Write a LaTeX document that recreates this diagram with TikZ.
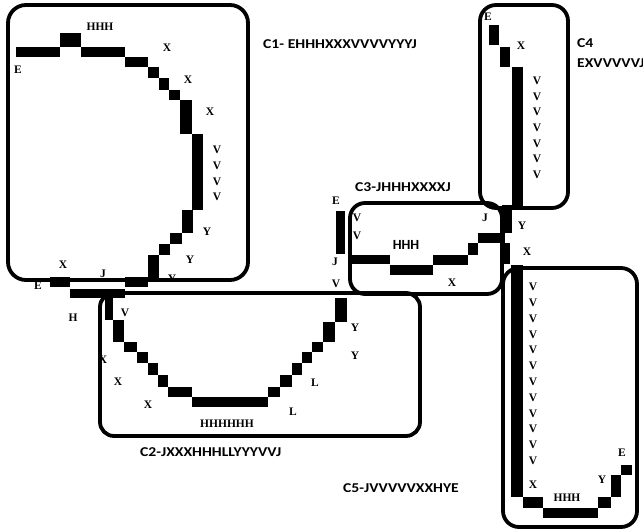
\documentclass[tikz,border=0pt]{standalone}
\usepackage{fontspec}
\setmainfont{Liberation Serif}
\newfontfamily\ttlfam{Carlito}
\newcommand{\wide}[1]{\scalebox{1.16}[1]{#1}}
\begin{document}
\begin{tikzpicture}[x=1pt,y=-1pt,
  lbl/.style={font=\fontsize{11.5}{12}\selectfont\bfseries, inner sep=0pt},
  slbl/.style={font=\ttlfam\fontsize{14}{15}\selectfont\bfseries, inner sep=0pt},
  ttl/.style={font=\ttlfam\fontsize{13.5}{15}\selectfont\bfseries, anchor=west, inner sep=0pt},
  frame/.style={draw=black, line width=3.8pt, rounded corners=16pt},
  blk/.style={fill=black}]
\path[use as bounding box] (0,0) rectangle (643,531);
\clip (0,0) rectangle (643,531);

% ---------- chain C1 labels ----------
\node[lbl] (c1h) at (100,27) {HHH};
\node[lbl] (c1e) at (18,70) {E};
\node[lbl] (c1x1) at (167,48) {X};
\node[lbl] (c1x2) at (188,80) {X};
\node[lbl] (c1x3) at (210,112) {X};
\foreach \y [count=\i] in {150,166,182,197}
  \node[lbl] (c1v\i) at (217,\y) {V};
\node[lbl] (c1y1) at (207,232) {Y};
\node[lbl] (c1y2) at (190,260) {Y};
\node[lbl] (c1x4) at (63,265) {X};
\node[lbl] (c1j) at (103,274) {J};
\node[lbl] (c1y3) at (172,279) {Y};
\node[lbl] (c1e2) at (38,286) {E};

% ---------- chain C2 labels ----------
\node[lbl] (c2h) at (73,318) {H};
\node[lbl] (c2v1) at (125,313) {V};
\node[lbl] (c2x1) at (103,360) {X};
\node[lbl] (c2x2) at (118,382) {X};
\node[lbl] (c2x3) at (148,405) {X};
\node[lbl] (c2h6) at (227,424) {HHHHHH};
\node[lbl] (c2l1) at (293,412) {L};
\node[lbl] (c2l2) at (315,383) {L};
\node[lbl] (c2y1) at (355,328) {Y};
\node[lbl] (c2y2) at (355,356) {Y};
\node[lbl] (c2v2) at (336,284) {V};

% ---------- chain C3 labels ----------
\node[lbl] (c3e) at (336,201) {E};
\node[lbl] (c3v1) at (357,218) {V};
\node[lbl] (c3v2) at (357,236) {V};
\node[lbl] (c3j1) at (335,262) {J};
\node[slbl] (c3h) at (406,245) {HHH};
\node[lbl] (c3x) at (452,283) {X};
\node[lbl] (c3j2) at (485,218) {J};

% ---------- chain C4 labels ----------
\node[lbl] (c4e) at (488,17) {E};
\node[lbl] (c4x) at (521,46) {X};
\foreach \i in {0,...,6}
  \node[lbl] (c4v\i) at (537,{81+15.6*\i}) {V};
\node[lbl] (c4y) at (522,226) {Y};
\node[lbl] (c4x2) at (527,252) {X};

% ---------- chain C5 labels ----------
\foreach \i in {0,...,11}
  \node[lbl] (c5v\i) at (533,{287+15.8*\i}) {V};
\node[lbl] (c5x) at (533,485) {X};
\node[lbl] (c5h) at (567,498) {HHH};
\node[lbl] (c5y) at (602,480) {Y};
\node[lbl] (c5e) at (622,453) {E};

% ---------- titles ----------
\node[ttl] (t1) at (263,44) {\wide{C1- EHHHXXXVVVVYYYJ}};
\node[ttl] (t2) at (140,452) {\wide{C2-JXXXHHHLLYYYVVJ}};
\node[ttl] (t3) at (355,187) {\wide{C3-JHHHXXXXJ}};
\node[ttl] (t4a) at (577,43) {\wide{C4}};
\node[ttl] (t4b) at (577,63) {\wide{EXVVVVVJ}};
\node[ttl] (t5) at (343,488) {\wide{C5-JVVVVVXXHYE}};

% ---------- frames ----------
\draw[frame, rounded corners=18pt] (8,5) rectangle (248,280);
\draw[frame, rounded corners=14pt] (100,293) rectangle (420,436);
\draw[frame, rounded corners=15pt] (350,203) rectangle (502,294);
\draw[frame, rounded corners=16pt] (480,5) rectangle (568,208);
\draw[frame, rounded corners=16pt] (503,268) rectangle (637,527);

% ---------- residue blocks ----------
% C1
\foreach \a/\b/\c/\d in {16/47/60/57, 60/33/81/47, 81/47/125/57, 125/57/148/67,
    148/67/159/78, 159/78/169/90, 169/90/180/100, 180/100/192/134,
    192/134/203/210, 182/210/193/233, 170/233/182/244, 159/244/170/255,
    148/255/159/278, 125/277/148/287, 50/277/70/287, 70/289/125/298}
  \fill[blk] (\a,\b) rectangle (\c,\d);
% C2
\foreach \a/\b/\c/\d in {105/298/113/320, 113/320/124/342, 124/342/137/352,
    137/352/148/363, 148/363/158/375, 158/375/168/387, 168/387/192/397,
    192/397/268/407, 268/387/280/397, 280/375/292/387, 292/363/302/375,
    302/352/312/363, 312/342/323/352, 323/322/335/342, 335/298/347/322}
  \fill[blk] (\a,\b) rectangle (\c,\d);
% C3
\foreach \a/\b/\c/\d in {336/211/345/254, 350/255/390/264, 390/265/433/275,
    433/255/468/265, 468/243/478/255, 478/233/505/243}
  \fill[blk] (\a,\b) rectangle (\c,\d);
% C4 and the stem joining it to C5
\foreach \a/\b/\c/\d in {489/25/499/45, 500/47/510/67, 512/67/523/208,
    502/205/512/233, 503/243/510/264}
  \fill[blk] (\a,\b) rectangle (\c,\d);
% C5
\foreach \a/\b/\c/\d in {511/265/523/497, 523/497/543/508, 543/508/598/518,
    598/497/611/508, 611/475/621/497, 621/465/632/475}
  \fill[blk] (\a,\b) rectangle (\c,\d);
\end{tikzpicture}
\end{document}
